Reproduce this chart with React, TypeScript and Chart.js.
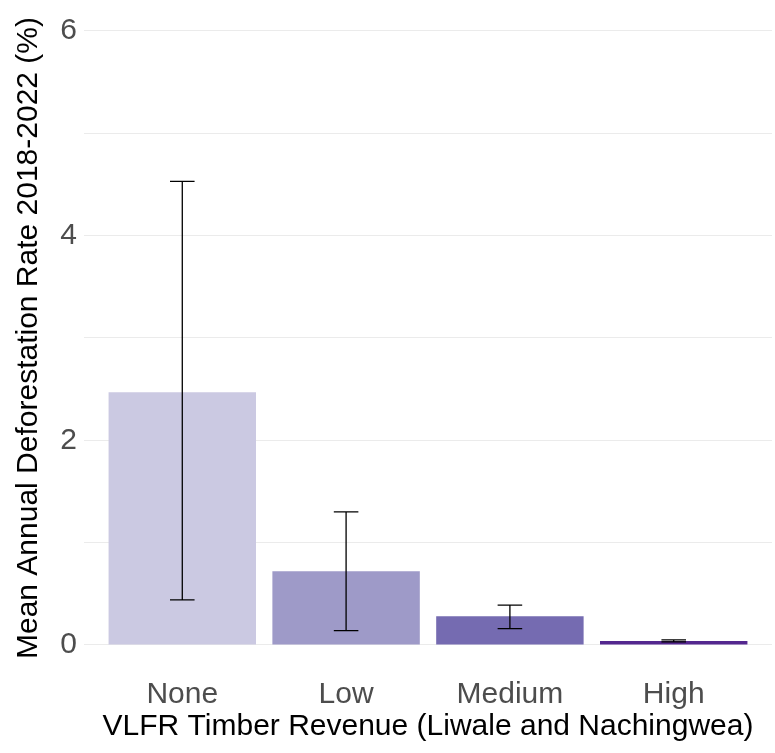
import React, { useEffect, useRef } from "react";
import { Chart, registerables } from "chart.js";

Chart.register(...registerables);

const categories = ["None", "Low", "Medium", "High"];
const meanRate = [2.47, 0.72, 0.28, 0.04];
const lowerCI = [0.44, 0.14, 0.16, 0.03];
const upperCI = [4.53, 1.3, 0.39, 0.05];
const barColors = ["#cbc9e2", "#9e9ac8", "#756bb1", "#54278f"];
const yTickValues = [0, 2, 4, 6];

const FONT = "'Liberation Sans', Arial, Helvetica, sans-serif";

const errorBarPlugin = {
  id: "errorBars",
  afterDatasetsDraw(chart: any) {
    const xs = chart.scales.x;
    const ys = chart.scales.y;
    const ctx = chart.ctx;
    ctx.save();
    ctx.strokeStyle = "#000000";
    ctx.lineWidth = 1.3;
    categories.forEach((_, i) => {
      const x = xs.getPixelForValue(i + 1);
      const half = (xs.getPixelForValue(i + 1 + 0.075) - xs.getPixelForValue(i + 1 - 0.075)) / 2;
      const yl = ys.getPixelForValue(lowerCI[i]);
      const yh = ys.getPixelForValue(upperCI[i]);
      ctx.beginPath();
      ctx.moveTo(x, yl);
      ctx.lineTo(x, yh);
      ctx.moveTo(x - half, yh);
      ctx.lineTo(x + half, yh);
      ctx.moveTo(x - half, yl);
      ctx.lineTo(x + half, yl);
      ctx.stroke();
    });
    ctx.restore();
  },
};

export default function App() {
  const ref = useRef<HTMLCanvasElement>(null);
  useEffect(() => {
    if (!ref.current) return;
    const chart = new Chart(ref.current, {
      type: "bar",
      data: {
        datasets: [
          {
            data: categories.map((_, i) => ({ x: i + 1, y: meanRate[i] })),
            backgroundColor: barColors,
            borderWidth: 0,
            barPercentage: 0.9,
            categoryPercentage: 1,
          },
        ],
      },
      options: {
        responsive: false,
        animation: false,
        layout: { padding: { top: 31, right: 3, bottom: 0, left: 0 } },
        plugins: { legend: { display: false }, tooltip: { enabled: false } },
        scales: {
          x: {
            type: "linear",
            offset: false,
            min: 0.4,
            max: 4.6,
            afterBuildTicks: (scale: any) => {
              scale.ticks = categories.map((_, i) => ({ value: i + 1 }));
            },
            afterFit: (scale: any) => {
              scale.height = 108;
            },
            grid: { display: false, drawTicks: false, offset: false },
            border: { display: false },
            ticks: {
              autoSkip: false,
              maxRotation: 0,
              padding: 32,
              color: "#4d4d4d",
              font: { family: FONT, size: 30 },
              callback: (v: any) => categories[Math.round(Number(v)) - 1] ?? "",
            },
            title: {
              display: true,
              text: "VLFR Timber Revenue (Liwale and Nachingwea)",
              color: "#000000",
              font: { family: FONT, size: 30 },
              padding: { top: 0, bottom: 8 },
            },
          },
          y: {
            min: 0,
            max: 6,
            afterFit: (scale: any) => {
              scale.width = 84;
            },
            grid: { color: "#ebebeb", lineWidth: 1.1, drawTicks: false },
            border: { display: false },
            ticks: {
              stepSize: 1,
              padding: 7,
              color: "#4d4d4d",
              font: { family: FONT, size: 30 },
              callback: (v: any) => (yTickValues.includes(Number(v)) ? String(v) : ""),
            },
            title: {
              display: true,
              text: "Mean Annual Deforestation Rate 2018-2022 (%)",
              color: "#000000",
              font: { family: FONT, size: 30 },
              padding: { top: 11, bottom: 0 },
            },
          },
        },
      },
      plugins: [errorBarPlugin],
    });
    return () => chart.destroy();
  }, []);
  return (
    <div style={{ position: "absolute", left: 0, top: 0, width: 775, height: 753, background: "#ffffff" }}>
      <canvas ref={ref} width={775} height={753} />
    </div>
  );
}
